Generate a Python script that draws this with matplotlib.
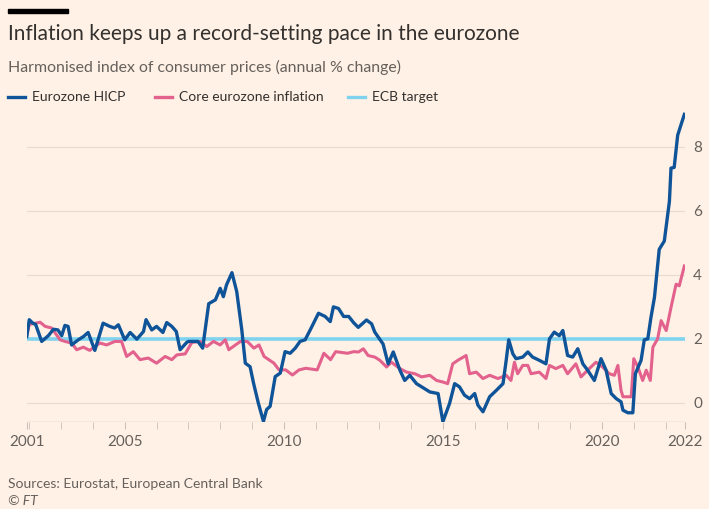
import numpy as np
import matplotlib
matplotlib.use("Agg")
import matplotlib.pyplot as plt

# Eurozone HICP, annual % change (decimal year, value)
hicp_t = [2001.92, 2002.0, 2002.1, 2002.2, 2002.39, 2002.6, 2002.76, 2002.9, 2003.02, 2003.12, 2003.22, 2003.33,
          2003.54, 2003.7, 2003.85, 2004.06, 2004.32, 2004.53, 2004.68, 2004.8, 2005.0, 2005.17, 2005.38, 2005.59,
          2005.67, 2005.85, 2006.0, 2006.2, 2006.32, 2006.48, 2006.62, 2006.74, 2006.95, 2007.0, 2007.3, 2007.45,
          2007.64, 2007.85, 2008.0, 2008.1, 2008.2, 2008.37, 2008.52, 2008.68, 2008.79, 2008.94, 2009.05, 2009.2,
          2009.36, 2009.46, 2009.57, 2009.73, 2009.89, 2010.04, 2010.2, 2010.36, 2010.51, 2010.67, 2010.83, 2011.09,
          2011.3, 2011.46, 2011.56, 2011.72, 2011.88, 2012.04, 2012.2, 2012.34, 2012.6, 2012.76, 2012.86, 2013.12,
          2013.28, 2013.44, 2013.65, 2013.8, 2013.96, 2014.17, 2014.33, 2014.59, 2014.85, 2015.0, 2015.21, 2015.37,
          2015.52, 2015.68, 2015.84, 2016.0, 2016.1, 2016.26, 2016.47, 2016.68, 2016.89, 2016.99, 2017.07, 2017.2,
          2017.3, 2017.51, 2017.67, 2017.82, 2018.03, 2018.24, 2018.35, 2018.5, 2018.66, 2018.77, 2018.92, 2019.08,
          2019.24, 2019.4, 2019.55, 2019.76, 2019.97, 2020.13, 2020.29, 2020.45, 2020.6, 2020.66, 2020.81, 2020.97,
          2021.05, 2021.23, 2021.33, 2021.44, 2021.54, 2021.65, 2021.8, 2021.96, 2022.12, 2022.17, 2022.27, 2022.38,
          2022.59]
hicp_v = [2.07, 2.6, 2.5, 2.45, 1.92, 2.1, 2.3, 2.28, 2.1, 2.42, 2.39, 1.81,
          1.97, 2.07, 2.2, 1.64, 2.49, 2.39, 2.34, 2.44, 1.97, 2.2, 1.99, 2.23,
          2.6, 2.28, 2.39, 2.2, 2.51, 2.39, 2.23, 1.66, 1.89, 1.92, 1.92, 1.71,
          3.1, 3.22, 3.58, 3.32, 3.69, 4.07, 3.48, 2.28, 1.24, 1.13, 0.61, -0.01,
          -0.58, -0.21, -0.11, 0.82, 0.93, 1.6, 1.55, 1.71, 1.92, 1.97, 2.28, 2.8,
          2.7, 2.54, 3.0, 2.95, 2.7, 2.7, 2.5, 2.36, 2.59, 2.47, 2.21, 1.84,
          1.22, 1.59, 1.02, 0.7, 0.86, 0.6, 0.5, 0.34, 0.29, -0.59, -0.02, 0.6,
          0.5, 0.24, 0.13, 0.29, -0.07, -0.28, 0.19, 0.39, 0.6, 1.33, 1.97, 1.53,
          1.38, 1.43, 1.59, 1.43, 1.33, 1.22, 2.0, 2.21, 2.1, 2.26, 1.48, 1.43,
          1.69, 1.22, 1.02, 0.7, 1.38, 1.02, 0.29, 0.13, 0.03, -0.23, -0.31, -0.31,
          0.91, 1.33, 1.97, 2.0, 2.67, 3.3, 4.8, 5.06, 6.3, 7.34, 7.36, 8.37,
          9.02]

# Core inflation
core_t = [2001.92, 2002.0, 2002.34, 2002.5, 2002.7, 2002.97, 2003.12, 2003.33, 2003.49, 2003.7, 2003.9, 2004.22,
          2004.43, 2004.69, 2004.9, 2005.06, 2005.27, 2005.48, 2005.74, 2006.0, 2006.27, 2006.48, 2006.64, 2006.9,
          2007.11, 2007.37, 2007.58, 2007.79, 2008.0, 2008.16, 2008.27, 2008.48, 2008.64, 2008.85, 2009.06, 2009.22,
          2009.38, 2009.69, 2009.85, 2010.06, 2010.27, 2010.48, 2010.69, 2011.05, 2011.26, 2011.47, 2011.63, 2012.0,
          2012.2, 2012.35, 2012.5, 2012.65, 2012.86, 2013.02, 2013.23, 2013.38, 2013.65, 2013.86, 2014.12, 2014.33,
          2014.59, 2014.8, 2015.0, 2015.15, 2015.31, 2015.47, 2015.73, 2015.84, 2016.05, 2016.26, 2016.47, 2016.73,
          2016.99, 2017.14, 2017.25, 2017.35, 2017.51, 2017.67, 2017.77, 2018.03, 2018.24, 2018.35, 2018.55, 2018.77,
          2018.92, 2019.18, 2019.34, 2019.55, 2019.81, 2020.02, 2020.23, 2020.39, 2020.5, 2020.6, 2020.66, 2020.92,
          2021.0, 2021.13, 2021.28, 2021.39, 2021.52, 2021.6, 2021.75, 2021.86, 2022.02, 2022.17, 2022.33, 2022.43,
          2022.59]
core_v = [2.1, 2.45, 2.52, 2.39, 2.34, 1.97, 1.92, 1.87, 1.66, 1.74, 1.64, 1.87,
          1.81, 1.92, 1.92, 1.45, 1.6, 1.35, 1.4, 1.24, 1.45, 1.35, 1.5, 1.53,
          1.89, 1.92, 1.76, 1.92, 1.81, 1.97, 1.66, 1.81, 1.92, 1.92, 1.71, 1.81,
          1.45, 1.24, 1.03, 1.03, 0.87, 1.03, 1.08, 1.03, 1.55, 1.35, 1.6, 1.55,
          1.6, 1.59, 1.69, 1.48, 1.43, 1.33, 1.12, 1.27, 1.07, 0.96, 0.91, 0.81,
          0.86, 0.7, 0.65, 0.6, 1.22, 1.33, 1.48, 0.91, 0.96, 0.76, 0.86, 0.76,
          0.86, 0.7, 1.27, 0.91, 1.17, 1.17, 0.91, 0.96, 0.76, 1.17, 1.07, 1.17,
          0.91, 1.22, 0.81, 1.02, 1.27, 1.12, 0.91, 0.86, 1.17, 0.39, 0.19, 0.19,
          1.38, 1.12, 0.7, 1.02, 0.7, 1.74, 2.0, 2.57, 2.26, 2.98, 3.71, 3.66,
          4.28]

ecb_target = 2.0
x_start, x_end = 2001.92, 2022.6
tick_pos = [x_start, 2005, 2010, 2015, 2020, x_end]
tick_lab = ["2001", "2005", "2010", "2015", "2020", "2022"]
yticks = [0, 2, 4, 6, 8]

bg = "#fff1e5"
plt.rcParams['font.family'] = ['Lato', 'DejaVu Sans']

fig = plt.figure(figsize=(7.09, 5.09), dpi=100, facecolor=bg)
ax = fig.add_axes([0.0377, 0.1709, 0.928, 0.622], facecolor=bg)

for y in yticks:
    ax.axhline(y, color="#e9dccf", lw=0.9, zorder=0)
ax.axhline(ecb_target, color="#7fd3ef", lw=2.6, zorder=1)
ax.plot(core_t, core_v, color="#e3628d", lw=2.2, zorder=2)
ax.plot(hicp_t, hicp_v, color="#0f5499", lw=2.4, zorder=3)

ax.set_xlim(x_start, x_end)
ax.set_ylim(-0.6, 9.3)
for s in ax.spines.values():
    s.set_visible(False)
ax.axhline(-0.6, color="#ccc1b7", lw=1.0, zorder=0)

ax.set_xticks(range(2002, 2023), minor=True)
ax.set_xticks(tick_pos)
ax.set_xticklabels(tick_lab)
ax.tick_params(axis="x", which="both", length=5, color="#ccc1b7", labelsize=11, labelcolor="#66605c", pad=4)
ax.yaxis.tick_right()
ax.set_yticks(yticks)
ax.tick_params(axis="y", length=0, labelsize=11, labelcolor="#66605c", pad=6)

# header
fig.patches.append(plt.Rectangle((8 / 709, 1 - 13 / 509), 60 / 709, 4 / 509, transform=fig.transFigure,
                                 color="#000000", figure=fig))
fig.text(8 / 709, 1 - 34 / 509, "Inflation keeps up a record-setting pace in the eurozone",
         fontsize=15, color="#33302e", va="center")
fig.text(8 / 709, 1 - 67 / 509, "Harmonised index of consumer prices (annual % change)",
         fontsize=11.4, color="#66605c", va="center")

# legend
leg = [("Eurozone HICP", "#0f5499", 8), ("Core eurozone inflation", "#e3628d", 155),
       ("ECB target", "#7fd3ef", 348)]
for lab, col, x0 in leg:
    fig.add_artist(plt.Line2D([x0 / 709, (x0 + 17) / 709], [1 - 97 / 509] * 2, color=col, lw=2.4))
    fig.text((x0 + 24) / 709, 1 - 97 / 509, lab, fontsize=10, color="#33302e", va="center")

fig.text(8 / 709, 1 - 484 / 509, "Sources: Eurostat, European Central Bank", fontsize=10,
         color="#66605c", va="center")
fig.text(8 / 709, 1 - 501 / 509, "© FT", fontsize=10, color="#66605c", va="center", style="italic")

fig.savefig("out.png", dpi=100, facecolor=bg)
